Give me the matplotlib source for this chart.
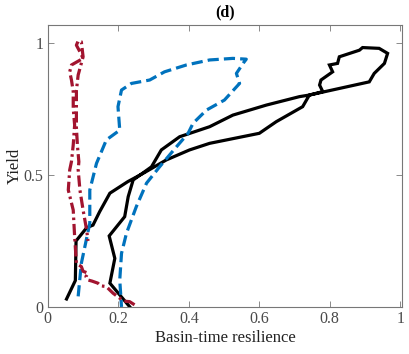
import numpy as np
import matplotlib
matplotlib.use('Agg')
import matplotlib.pyplot as plt

# black solid curve (resilience, yield)
black_x = [0.053, 0.078, 0.080, 0.110, 0.128, 0.147, 0.176, 0.227, 0.270, 0.336,
           0.402, 0.459, 0.600, 0.648, 0.723, 0.742, 0.780, 0.771, 0.775, 0.808,
           0.799, 0.822, 0.827, 0.884, 0.893, 0.940, 0.964, 0.955, 0.926, 0.912,
           0.742, 0.714, 0.620, 0.525, 0.459, 0.374, 0.322, 0.294, 0.242, 0.228,
           0.218, 0.174, 0.190, 0.176, 0.232]
black_y = [0.030, 0.100, 0.250, 0.300, 0.310, 0.361, 0.431, 0.475, 0.506, 0.557,
           0.595, 0.620, 0.658, 0.702, 0.759, 0.803, 0.816, 0.841, 0.860, 0.891,
           0.917, 0.923, 0.948, 0.973, 0.983, 0.980, 0.961, 0.923, 0.885, 0.853,
           0.803, 0.797, 0.765, 0.727, 0.683, 0.645, 0.595, 0.531, 0.481, 0.418,
           0.342, 0.269, 0.184, 0.090, 0.001]

# blue dashed curve
blue_x = [0.086, 0.095, 0.119, 0.119, 0.138, 0.166, 0.204, 0.199, 0.209, 0.237,
          0.289, 0.331, 0.393, 0.459, 0.525, 0.563, 0.555, 0.535, 0.544, 0.501,
          0.450, 0.412, 0.398, 0.365, 0.317, 0.280, 0.251, 0.223, 0.209, 0.204,
          0.209]
blue_y = [0.040, 0.165, 0.317, 0.443, 0.544, 0.633, 0.670, 0.759, 0.822, 0.847,
          0.860, 0.891, 0.917, 0.936, 0.942, 0.939, 0.925, 0.885, 0.847, 0.784,
          0.746, 0.696, 0.658, 0.607, 0.531, 0.469, 0.380, 0.279, 0.203, 0.102,
          0.000]

# red dash-dot curve
red_x = [0.246, 0.232, 0.215, 0.204, 0.185, 0.175, 0.166, 0.150, 0.142, 0.125,
         0.114, 0.108, 0.114, 0.100, 0.095, 0.081, 0.076,
         0.072, 0.058, 0.062, 0.067, 0.072, 0.076, 0.072, 0.072, 0.067, 0.062,
         0.067, 0.100, 0.091, 0.081, 0.086, 0.095, 0.100, 0.086, 0.081, 0.081,
         0.081, 0.084, 0.088, 0.086, 0.091, 0.100, 0.110, 0.114]
red_y = [0.008, 0.020, 0.022, 0.033, 0.052, 0.065, 0.077, 0.080, 0.090, 0.098,
         0.102, 0.115, 0.128, 0.135, 0.153, 0.165, 0.266,
         0.367, 0.443, 0.519, 0.551, 0.614, 0.689, 0.753, 0.816, 0.860, 0.891,
         0.917, 0.942, 0.967, 0.992, 1.008, 1.005, 0.948, 0.879, 0.820, 0.750,
         0.680, 0.610, 0.550, 0.520, 0.443, 0.367, 0.292, 0.250]

xticks = [0, 0.2, 0.4, 0.6, 0.8, 1]
xticklabels = ['0', '0.2', '0.4', '0.6', '0.8', '1']
yticks = [0, 0.5, 1]
yticklabels = ['0', '0.5', '1']

plt.rcParams['font.family'] = ['Liberation Serif', 'DejaVu Serif']

fig = plt.figure(figsize=(4.09, 3.54), dpi=100)
ax = fig.add_axes([0.117, 0.133, 0.866, 0.796])

lw = 2.3
ax.plot(black_x, black_y, color='black', lw=lw, solid_joinstyle='miter')
ax.plot(blue_x, blue_y, color='#0072BD', lw=lw, linestyle=(0, (3.5, 1.6)))
ax.plot(red_x, red_y, color='#A2142F', lw=lw, linestyle=(0, (3.5, 1.2, 0.8, 1.2)))

ax.set_xlim(0, 1.005)
ax.set_ylim(0, 1.068)
ax.set_xticks(xticks)
ax.set_xticklabels(xticklabels)
ax.set_yticks(yticks)
ax.set_yticklabels(yticklabels)

gray = '#4a4a4a'
for s in ax.spines.values():
    s.set_color('#777777')
    s.set_linewidth(0.8)
ax.tick_params(direction='in', top=True, right=True, length=4, width=0.6,
               colors='#777777', labelcolor=gray, labelsize=11.5, pad=3)

ax.set_xlabel('Basin-time resilience', fontsize=12, color='#222222', labelpad=2)
ax.set_ylabel('Yield', fontsize=12, color='#222222', labelpad=1)
ax.set_title('(d)', fontsize=11.5, fontweight='bold', pad=6)

fig.savefig('out.png', dpi=100)
